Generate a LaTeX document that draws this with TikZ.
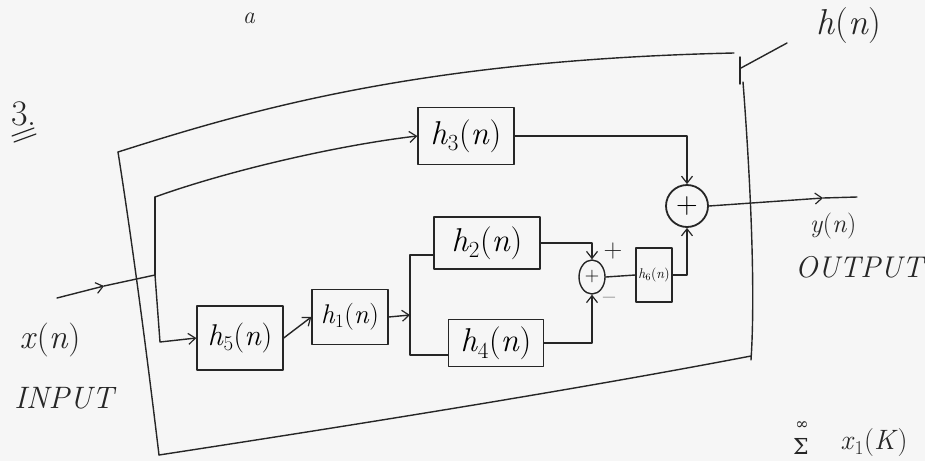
\documentclass[tikz,border=0pt]{standalone}
\usepackage{fontspec}
\newfontfamily\djv{DejaVu Serif}
\newcommand{\hsub}[1]{\textit{h}\textsubscript{#1}(\textit{n})}
\usetikzlibrary{arrows.meta,shapes.geometric}
\begin{document}
\begin{tikzpicture}[x=1pt,y=-1pt,
  ink/.style={draw=black!85,line width=1.4pt,line cap=round,line join=round},
  blk/.style={ink,rectangle,inner sep=0pt,font=\fontsize{33}{36}\selectfont},
  arr/.style={ink,-{Straight Barb[length=7pt,width=11pt,line width=1.2pt]}},
  lbl/.style={text=black!85,inner sep=0pt,font=\fontsize{24}{28}\selectfont}
]
\useasboundingbox[fill=gray!7] (0,0) rectangle (925,461);

% outer enclosure h(n)
\draw[ink] (118,152) .. controls (250,110) and (420,60) .. (734,53);
\draw[ink] (740,57) -- (740,84);
\draw[ink] (743,82) .. controls (752,200) and (755,300) .. (751,360);
\draw[ink] (118,152) .. controls (135,260) and (150,380) .. (159,455);
\draw[ink] (159,455) .. controls (400,418) and (600,385) .. (751,356);
\coordinate (lead1) at (741,68);
\coordinate (lead2) at (787,43);
\draw[ink] (lead1) -- (lead2);
\node[lbl,font=\fontsize{36}{40}\selectfont] (hn) at (849,26) {\textit{h}(\textit{n})};

% number
\node[lbl,font=\fontsize{36}{40}\selectfont] (num) at (24,114) {3.};
\draw[ink,line width=1.2pt] (12,136) -- (34,128);
\draw[ink,line width=1.2pt] (14,142) -- (36,134);

% blocks
\node[blk,minimum width=96,minimum height=57] (h3) at (466,136) {\hsub{3}};
\node[blk,minimum width=106,minimum height=52] (h2) at (487,243) {\hsub{2}};
\node[blk,minimum width=95,minimum height=47] (h4) at (496,343) {\hsub{4}};
\node[blk,minimum width=86,minimum height=64,font=\fontsize{30}{34}\selectfont] (h5) at (240,338) {\hsub{5}};
\node[blk,minimum width=76,minimum height=55,font=\fontsize{27}{30}\selectfont] (h1) at (350,317) {\hsub{1}};
\node[blk,minimum width=36,minimum height=54,font=\fontsize{14}{15}\selectfont] (h6) at (654,275) {\raisebox{-9pt}{\hsub{6}}};

% summers
\node[ink,circle,minimum size=42,inner sep=0pt,line width=1.8pt,font=\fontsize{30}{32}\selectfont] (bigsum) at (687,206) {+};
\node[ink,ellipse,minimum width=26,minimum height=34,inner sep=0pt,font=\fontsize{20}{22}\selectfont] (smallsum) at (592,277) {+};
\node[lbl,font=\fontsize{26}{28}\selectfont] (plus) at (613,251) {+};
\node[lbl,font=\fontsize{26}{28}\selectfont] (minus) at (609,301) {–};

% input
\coordinate (xin) at (57,298);
\coordinate (xmid) at (104,286);
\coordinate (jin) at (155,275);
\coordinate (jtop) at (155,197);
\coordinate (jbot) at (160,342);
\draw[arr] (xin) -- (xmid);
\draw[ink] (xmid) -- (jin);
\node[lbl,font=\fontsize{34}{38}\selectfont] (xn) at (50,340) {\textit{x}(\textit{n})};
\node[lbl,font=\fontsize{31}{34}\selectfont\itshape] (inp) at (64,398) {INPUT};

% upper path
\draw[ink] (jin) -- (jtop);
\draw[arr] (jtop) .. controls (230,170) and (340,145) .. (h3.west);
\draw[arr] (h3.east) -| (bigsum.north);

% lower path
\draw[arr] (jin) -- (jbot) -- (h5.west);
\draw[arr] (h5.east) -- (h1.west);
\coordinate (jsplit) at (410,315);
\coordinate (s2) at (410,255);
\coordinate (s4) at (410,355);
\draw[arr] (h1.east) -- (jsplit);
\draw[ink] (jsplit) -- (s2) -- (s2 -| h2.west);
\draw[ink] (jsplit) -- (s4) -- (s4 -| h4.west);
\draw[arr] (h2.east) -| (smallsum.north);
\draw[arr] (h4.east) -| (smallsum.south);
\draw[ink] (smallsum.east) -- (h6.west);
\draw[arr] (h6.east) -| (bigsum.south);

% output
\coordinate (omid) at (823,198);
\coordinate (yout) at (857,197);
\draw[arr] (bigsum.east) -- (omid);
\draw[ink] (omid) -- (yout);
\node[lbl,font=\fontsize{26}{30}\selectfont] (yn) at (833,226) {\textit{y}(\textit{n})};
\node[lbl,font=\fontsize{30}{34}\selectfont\itshape] (outp) at (859,267) {OUTPUT};

% page fragments
\node[lbl,font=\fontsize{24}{26}\selectfont] (fa) at (249,18) {\textit{a}};
\node[lbl,font=\fontsize{16}{18}\selectfont\djv] (finf) at (802,426) {∞};
\node[lbl,font=\fontsize{22}{24}\selectfont\djv] (fsum) at (801,446) {Σ};
\node[lbl,font=\fontsize{28}{30}\selectfont] (fx) at (874,443) {\textit{x}\textsubscript{1}(\textit{K})};
\end{tikzpicture}
\end{document}
